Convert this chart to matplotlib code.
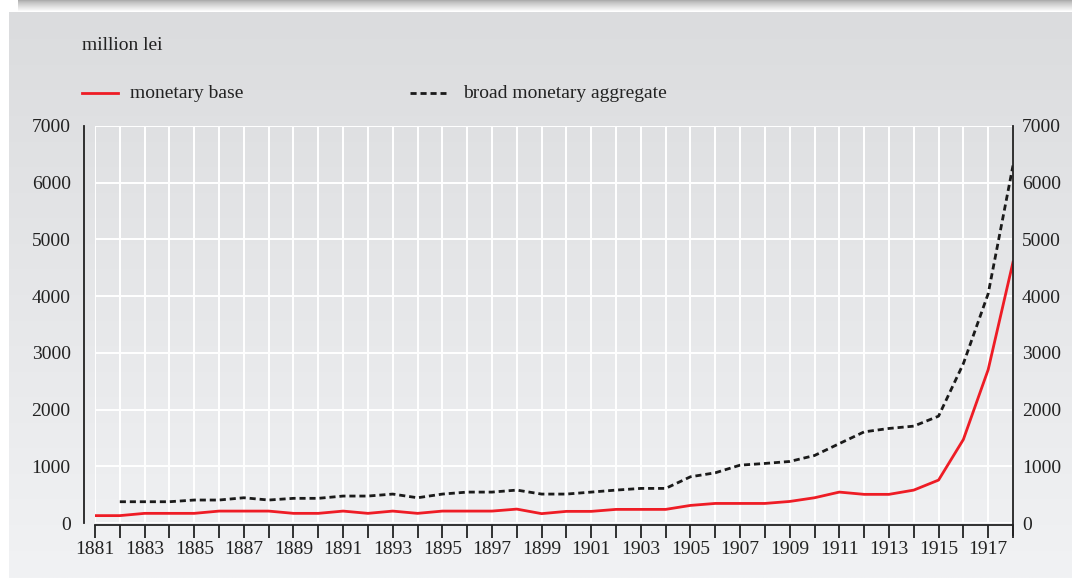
import numpy as np
import matplotlib
matplotlib.use("Agg")
import matplotlib.pyplot as plt
from matplotlib.lines import Line2D

plt.rcParams['font.family'] = ['Liberation Serif', 'DejaVu Serif']

# data (million lei)
years = list(range(1881, 1919))
monetary_base = [130, 130, 170, 170, 170, 210, 210, 210, 170, 170,
                 210, 170, 210, 170, 210, 210, 210, 245, 165, 205,
                 205, 240, 240, 240, 310, 345, 345, 345, 380, 445,
                 545, 505, 505, 580, 757, 1473, 2705, 4600]
broad_aggregate = [np.nan, 375, 375, 375, 405, 405, 445, 405, 435, 435,
                   475, 475, 510, 445, 510, 545, 545, 580, 510, 510,
                   545, 580, 610, 610, 815, 885, 1020, 1050, 1085, 1190,
                   1400, 1607, 1667, 1708, 1884, 2811, 4044, 6303]
y_ticks = [0, 1000, 2000, 3000, 4000, 5000, 6000, 7000]
x_labels = list(range(1881, 1918, 2))

W, H = 1072, 578
FS = 14
TXT = '#222222'
LW = 2.0
fig = plt.figure(figsize=(W / 100, H / 100), dpi=100)
fig.patch.set_facecolor('white')

# background: shadow strip on top, gray gradient panel below
bg = fig.add_axes([0, 0, 1, 1], zorder=-10)
bg.set_xlim(0, W)
bg.set_ylim(H, 0)
bg.axis('off')
shade = np.linspace(0, 1, 12)[:, None]
top = np.dstack([0.68 + 0.32 * shade ** 0.8] * 3)
bg.imshow(np.repeat(top, 10, axis=1), extent=(18, W, 12, 0), aspect='auto')
g = np.linspace(0, 1, 200)[:, None]
c0 = np.array([0xdb, 0xdc, 0xde]) / 255
c1 = np.array([0xf1, 0xf2, 0xf4]) / 255
panel = c0 + (c1 - c0) * g[..., None]
bg.imshow(np.repeat(panel, 4, axis=1), extent=(9, W, H, 12), aspect='auto')

# main axes
ax = fig.add_axes([95 / W, (H - 523) / H, (1013 - 95) / W, 397 / H])
ax.set_facecolor('none')
ax.plot(years, monetary_base, color='#ee1c25', lw=LW, zorder=3)
ax.plot(years, broad_aggregate, color='#1a1a1a', lw=LW, ls=(0, (2.2, 1.4)), zorder=3)

ax.set_xlim(1881, 1918)
ax.set_ylim(0, 7000)
ax.set_yticks(y_ticks)
ax.set_xticks(x_labels)
ax.set_xticks(years, minor=True)
ax.grid(True, which='both', axis='x', color='white', lw=1.4)
ax.grid(True, which='major', axis='y', color='white', lw=1.4)
ax.set_axisbelow(True)

ax.spines['top'].set_visible(False)
ax.spines['right'].set_visible(False)
ax.spines['left'].set_position(('outward', 8))
ax.spines['bottom'].set_position(('outward', 1.5))
for s in ['left', 'bottom']:
    ax.spines[s].set_color(TXT)
    ax.spines[s].set_linewidth(1.3)

ax.tick_params(axis='y', length=0, labelsize=FS, labelcolor=TXT, pad=9.5)
ax.tick_params(axis='x', which='both', direction='out', length=9, width=1.3,
               color=TXT, labelsize=FS, labelcolor=TXT, pad=2.5)

# right-hand scale
ax2 = ax.twinx()
ax2.set_ylim(0, 7000)
ax2.set_yticks(y_ticks)
for s in ['top', 'left', 'bottom']:
    ax2.spines[s].set_visible(False)
ax2.spines['right'].set_color(TXT)
ax2.spines['right'].set_linewidth(1.3)
ax2.spines['right'].set_bounds(-220, 7000)
ax2.tick_params(axis='y', length=0, labelsize=FS, labelcolor=TXT, pad=6.5)

fig.text(82 / W, 1 - 46 / H, 'million lei', fontsize=FS, color=TXT, va='center')

# legend
fig.add_artist(Line2D([82 / W, 118 / W], [1 - 93 / H] * 2, color='#ee1c25', lw=LW))
fig.text(130 / W, 1 - 93 / H, 'monetary base', fontsize=FS, color=TXT, va='center')
fig.add_artist(Line2D([410 / W, 446 / W], [1 - 93 / H] * 2, color='#1a1a1a', lw=LW,
                      ls=(0, (2.2, 1.4))))
fig.text(463 / W, 1 - 93 / H, 'broad monetary aggregate', fontsize=FS, color=TXT,
         va='center')

fig.savefig('out.png', dpi=100, facecolor=fig.get_facecolor())
